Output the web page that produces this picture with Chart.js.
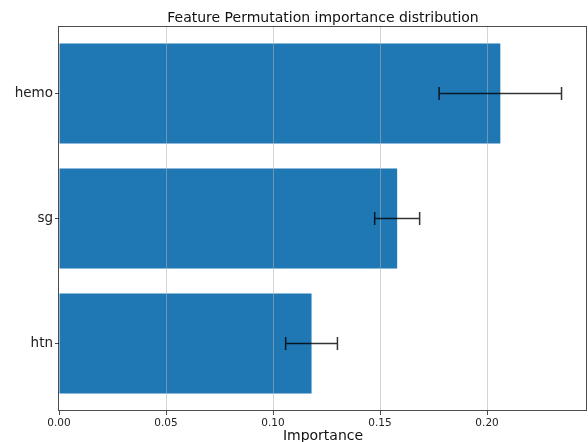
<!DOCTYPE html>
<html>
<head>
<meta charset="utf-8">
<script src="https://cdn.jsdelivr.net/npm/chart.js@4/dist/chart.umd.min.js"></script>
<style>
html,body{margin:0;padding:0;background:#fff;}
#wrap{width:588px;height:442px;position:relative;}
</style>
</head>
<body>
<div id="wrap"><canvas id="c" width="588" height="442"></canvas></div>
<script>
const features = ['htn', 'sg', 'hemo'];
const importances = [0.118, 0.158, 0.2062];
const errors = [0.0121, 0.0105, 0.0286];
const xTicks = [0, 0.05, 0.10, 0.15, 0.20];
const titleText = 'Feature Permutation importance distribution';
const xLabel = 'Importance';

const FONT = "'DejaVu Sans', sans-serif";

const overlay = {
  id: 'overlay',
  afterDatasetsDraw(chart) {
    const ctx = chart.ctx;
    const xs = chart.scales.x, ys = chart.scales.y;
    const a = chart.chartArea;
    ctx.save();
    // grid lines above bars
    ctx.strokeStyle = 'rgba(176,176,176,0.55)';
    ctx.lineWidth = 1;
    xTicks.forEach(v => {
      if (v === 0) return;
      const px = Math.round(xs.getPixelForValue(v)) + 0.5;
      ctx.beginPath(); ctx.moveTo(px, a.top); ctx.lineTo(px, a.bottom); ctx.stroke();
    });
    // error bars
    ctx.strokeStyle = 'rgba(0,0,0,0.8)';
    ctx.lineWidth = 1.5;
    importances.forEach((v, i) => {
      const y = ys.getPixelForValue(i);
      const x1 = xs.getPixelForValue(v - errors[i]);
      const x2 = xs.getPixelForValue(v + errors[i]);
      ctx.beginPath();
      ctx.moveTo(x1, y); ctx.lineTo(x2, y);
      ctx.moveTo(x1, y - 6.5); ctx.lineTo(x1, y + 6.5);
      ctx.moveTo(x2, y - 6.5); ctx.lineTo(x2, y + 6.5);
      ctx.stroke();
    });
    // spines
    ctx.strokeStyle = 'rgba(0,0,0,0.7)';
    ctx.lineWidth = 1;
    ctx.strokeRect(Math.round(a.left) - 0.5, Math.round(a.top) + 0.5, Math.round(a.right) - Math.round(a.left), Math.round(a.bottom) - Math.round(a.top) - 1);
    // title
    ctx.fillStyle = '#111';
    ctx.font = '14px ' + FONT;
    ctx.textAlign = 'center';
    ctx.textBaseline = 'alphabetic';
    ctx.fillText(titleText, (a.left + a.right) / 2, 22);
    // x label
    ctx.fillText(xLabel, (a.left + a.right) / 2, 440);
    ctx.restore();
  }
};

new Chart(document.getElementById('c'), {
  type: 'bar',
  data: {
    datasets: [{
      data: importances.map((v, i) => ({x: v, y: i})),
      backgroundColor: '#1f77b4',
      borderWidth: 0,
      barPercentage: 0.8,
      categoryPercentage: 1.0
    }]
  },
  options: {
    indexAxis: 'y',
    responsive: false,
    animation: false,
    layout: {padding: {top: 26, right: 1, left: 0, bottom: 0}},
    plugins: {legend: {display: false}, tooltip: {enabled: false}, title: {display: false}},
    scales: {
      x: {
        type: 'linear',
        min: 0,
        max: 0.2467,
        offset: false,
        afterBuildTicks: s => { s.ticks = xTicks.map(v => ({value: v})); },
        afterFit: s => { s.height = 31; },
        grid: {drawOnChartArea: false, drawTicks: true, tickLength: 4, offset: false, color: 'rgba(0,0,0,0.7)'},
        border: {display: false},
        ticks: {
          color: '#222',
          font: {family: FONT, size: 10.5},
          padding: 2,
          maxRotation: 0,
          callback: v => Number(v).toFixed(2)
        }
      },
      y: {
        type: 'linear',
        min: -0.54,
        max: 2.54,
        offset: false,
        afterBuildTicks: s => { s.ticks = features.map((f, i) => ({value: i})); },
        afterFit: s => { s.width = 59; },
        grid: {drawOnChartArea: false, drawTicks: true, tickLength: 4, offset: false, color: 'rgba(0,0,0,0.7)'},
        border: {display: false},
        ticks: {
          color: '#222',
          font: {family: FONT, size: 13.5},
          padding: 2,
          callback: v => features[v]
        }
      }
    }
  },
  plugins: [overlay]
});
</script>
</body>
</html>
